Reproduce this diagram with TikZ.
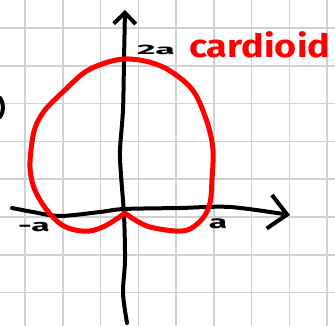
\documentclass[tikz,border=0pt]{standalone}
\usepackage{fontspec}
\setmainfont{Fira Sans}
\usetikzlibrary{arrows.meta,positioning}

\begin{document}
\begin{tikzpicture}[
  x=1pt, y=-1pt,
  gridline/.style={draw=black!18, line width=1.5pt},
  axis/.style={draw=black, line width=4pt, line cap=round, line join=round},
  curve/.style={draw=red, line width=5pt, line cap=round, line join=round},
  mark label/.style={font=\bfseries\fontsize{21}{21}\selectfont, text=black, inner sep=0pt},
  title label/.style={font=\fontsize{32}{32}\selectfont, text=red, inner sep=0pt}
]
\useasboundingbox (0,0) rectangle (335,326);

% ===== Grid paper =====
\foreach \gx in {25,62.75,100.5,138.25,176,213.75,251.5,289.25,327}
  \draw[gridline] (\gx,0) -- (\gx,326);
\foreach \gy in {28,65.8,103.6,141.4,179.2,217,254.8,292.6}
  \draw[gridline] (0,\gy) -- (335,\gy);

% ===== Axes =====
\coordinate (xl) at (12,208);
\coordinate (xr) at (290,215);
\coordinate (yb) at (127,323);
\coordinate (yt) at (125,10);
\coordinate (o)  at (124,209);

\draw[axis, -{Straight Barb[length=18pt,width=34pt,line width=4pt]}]
  plot[smooth, tension=0.5] coordinates {(xl) (33,212) (60,216) (100,212) (o) (180,208) (230,207) (xr)};
\draw[axis, -{Straight Barb[length=11pt,width=22pt,line width=4pt]}]
  plot[smooth, tension=0.5] coordinates {(yb) (123,293) (125,260) (124,215) (121,175) (120,150) (123,110) (124,60) (yt)};

% stray stroke at the left edge
\draw[axis] (0,98) .. controls (4,103) and (4,112) .. (0,117);

% ===== Cardioid =====
\coordinate (cusp) at (125,213);
\draw[curve] plot[smooth, tension=0.55] coordinates {
  (cusp) (135,220) (150,227) (175,231) (190,229) (203,218) (210,203)
  (212,180) (213,150) (208,125) (197,97) (185,82) (165,68) (145,61)
  (124,59) (105,63) (85,72) (65,90) (45,110) (35,128) (31,150)
  (30,168) (33,185) (40,200) (50,214) (62,225) (75,230) (90,231)
  (105,226) (118,218) (cusp)};

% ===== Labels =====
\node[mark label, anchor=center] (twoa) at (156,50) {\scalebox{1.7}[0.65]{2a}};
\node[mark label, anchor=center] (minusa) at (34,227) {\scalebox{1.6}[0.8]{-a}};
\node[mark label, anchor=center] (plusa) at (218,224) {\scalebox{1.6}[0.85]{a}};
\node[title label, anchor=base west] (name) at (189,58) {\textbf{\scalebox{1.18}[1]{cardioid}}};

\end{tikzpicture}
\end{document}
